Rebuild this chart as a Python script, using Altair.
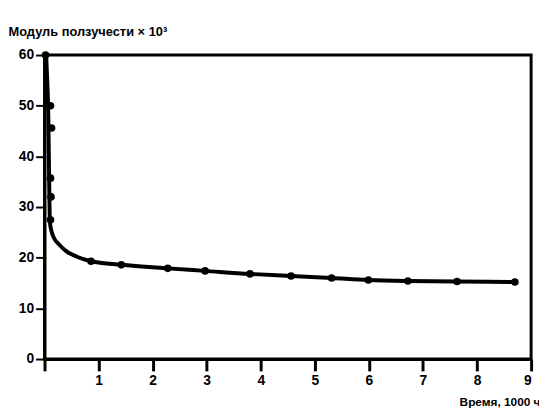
import altair as alt
import pandas as pd

# smooth fitted curve
curve_x = [0.03, 0.05, 0.07, 0.08, 0.09, 0.1, 0.13, 0.18, 0.27, 0.4, 0.6, 0.86, 1.42, 2.28, 2.97, 3.80, 4.56, 5.31, 5.99, 6.72, 7.63, 8.7]
curve_y = [60, 55, 48, 40, 32, 27, 25.2, 23.8, 22.6, 21.3, 20.2, 19.3, 18.6, 17.9, 17.4, 16.8, 16.4, 16.0, 15.6, 15.4, 15.3, 15.2]

# measured points
pt_x = [0.02, 0.11, 0.13, 0.11, 0.12, 0.11, 0.86, 1.42, 2.28, 2.97, 3.80, 4.56, 5.31, 5.99, 6.72, 7.63, 8.7]
pt_y = [60, 50, 45.6, 35.7, 32, 27.5, 19.3, 18.6, 17.9, 17.4, 16.8, 16.4, 16.0, 15.6, 15.4, 15.3, 15.2]

x_ticks = [0, 1, 2, 3, 4, 5, 6, 7, 8, 9]
y_ticks = [0, 10, 20, 30, 40, 50, 60]

curve = pd.DataFrame({"t": curve_x, "m": curve_y, "o": list(range(len(curve_x)))})
pts = pd.DataFrame({"t": pt_x, "m": pt_y})

FONT = "Liberation Sans"

xenc = alt.X("t:Q", scale=alt.Scale(domain=[0, 9], nice=False, zero=True),
             axis=alt.Axis(values=x_ticks, title="Время, 1000 ч", grid=False, format="d",
                           labelExpr="datum.value == 0 ? '' : datum.label",
                           tickSize=12, tickWidth=3, tickColor="black",
                           domainColor="black", domainWidth=3,
                           labelFont=FONT, labelFontSize=14, labelFontWeight="bold", labelColor="black",
                           labelPadding=3,
                           titleFont=FONT, titleFontSize=12, titleFontWeight="bold", titleColor="black",
                           titleAnchor="end", titleAlign="right", titleX=502, titleY=50,
                           titleBaseline="bottom"))
yenc = alt.Y("m:Q", scale=alt.Scale(domain=[0, 60], nice=False),
             axis=alt.Axis(values=y_ticks, title="Модуль ползучести × 10³", grid=False, format="d",
                           tickSize=9, tickWidth=2, tickColor="black",
                           domainColor="black", domainWidth=3,
                           labelFont=FONT, labelFontSize=14, labelFontWeight="bold", labelColor="black",
                           labelPadding=2,
                           titleFont=FONT, titleFontSize=13, titleFontWeight="bold", titleColor="black",
                           titleAngle=0, titleAlign="left", titleBaseline="bottom",
                           titleX=-37, titleY=-17))

line = alt.Chart(curve).mark_line(color="black", strokeWidth=4, interpolate="monotone").encode(
    x=xenc, y=yenc, order="o:Q")
dots = alt.Chart(pts).mark_circle(color="black", size=60, opacity=1).encode(x="t:Q", y="m:Q")

chart = alt.layer(line, dots).properties(
    width=493, height=308,
    background="white",
    autosize=alt.AutoSizeParams(type="none"),
    padding={"left": 37, "top": 45, "right": 8, "bottom": 53},
).configure_view(stroke="black", strokeWidth=3)

chart.save("out.html", embed_options={"renderer": "svg", "actions": False})
